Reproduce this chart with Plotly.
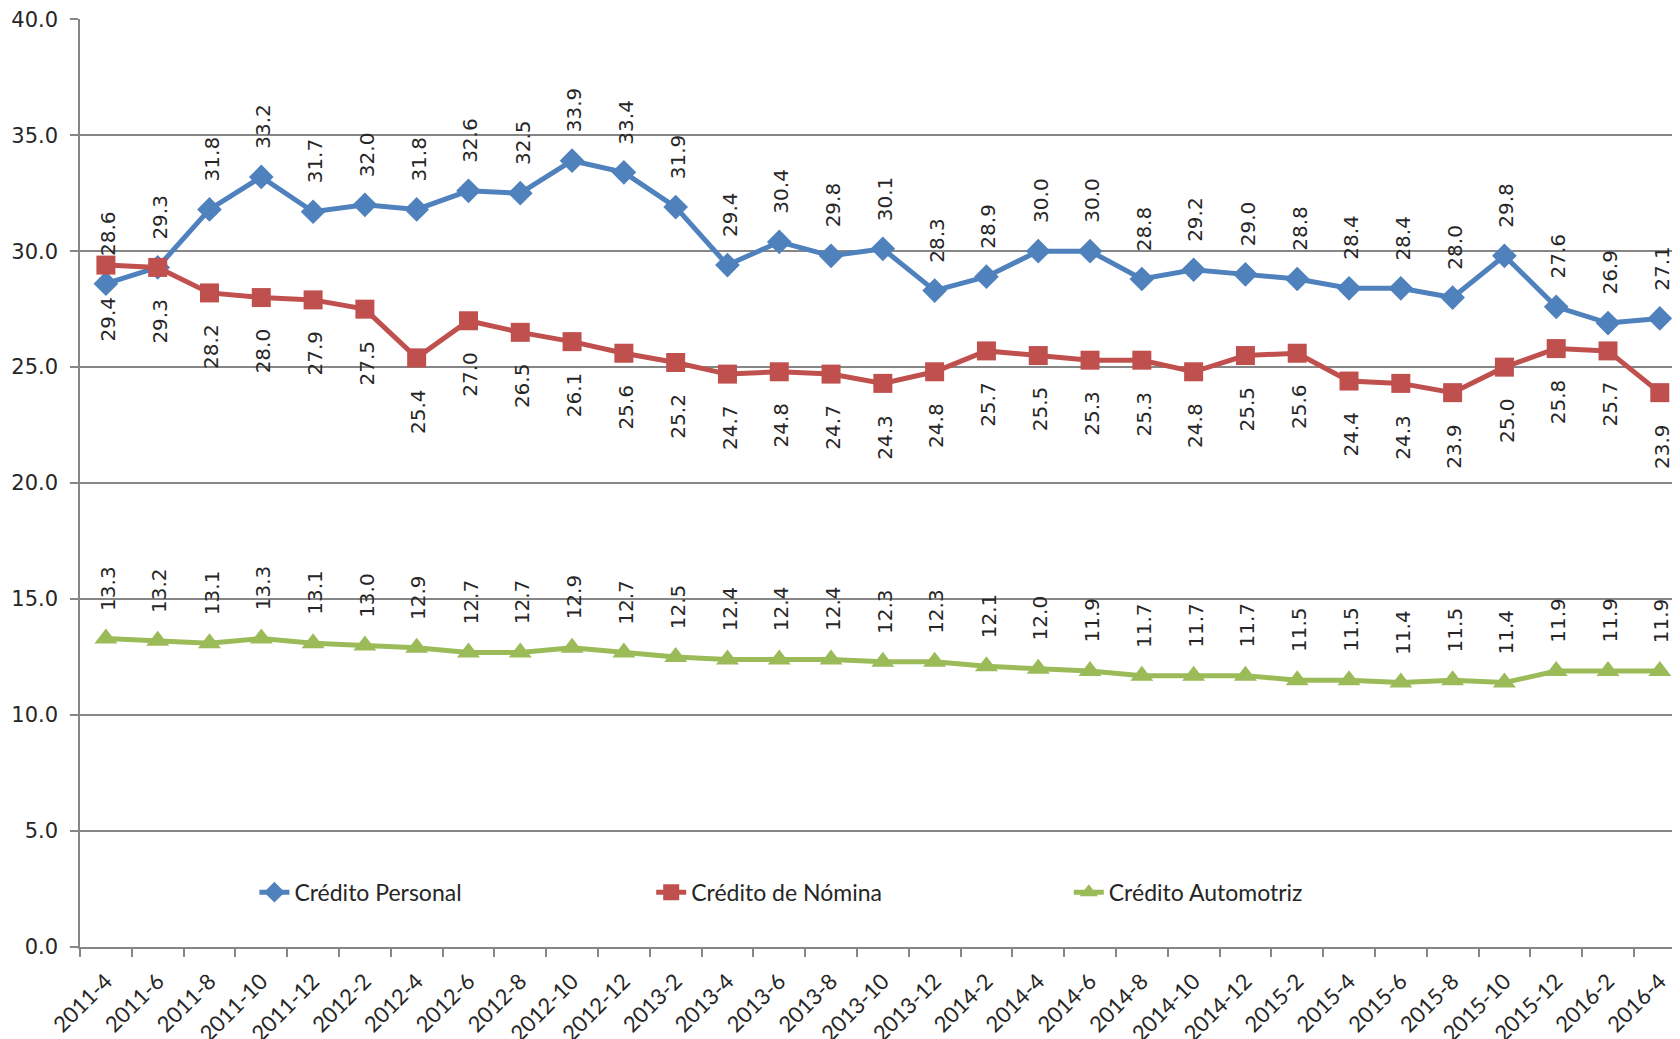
import plotly.graph_objects as go

periods = ["2011-4", "2011-6", "2011-8", "2011-10", "2011-12",
           "2012-2", "2012-4", "2012-6", "2012-8", "2012-10", "2012-12",
           "2013-2", "2013-4", "2013-6", "2013-8", "2013-10", "2013-12",
           "2014-2", "2014-4", "2014-6", "2014-8", "2014-10", "2014-12",
           "2015-2", "2015-4", "2015-6", "2015-8", "2015-10", "2015-12",
           "2016-2", "2016-4"]

personal = [28.6, 29.3, 31.8, 33.2, 31.7, 32.0, 31.8, 32.6, 32.5, 33.9, 33.4,
            31.9, 29.4, 30.4, 29.8, 30.1, 28.3, 28.9, 30.0, 30.0, 28.8, 29.2,
            29.0, 28.8, 28.4, 28.4, 28.0, 29.8, 27.6, 26.9, 27.1]

nomina = [29.4, 29.3, 28.2, 28.0, 27.9, 27.5, 25.4, 27.0, 26.5, 26.1, 25.6,
          25.2, 24.7, 24.8, 24.7, 24.3, 24.8, 25.7, 25.5, 25.3, 25.3, 24.8,
          25.5, 25.6, 24.4, 24.3, 23.9, 25.0, 25.8, 25.7, 23.9]

automotriz = [13.3, 13.2, 13.1, 13.3, 13.1, 13.0, 12.9, 12.7, 12.7, 12.9, 12.7,
              12.5, 12.4, 12.4, 12.4, 12.3, 12.3, 12.1, 12.0, 11.9, 11.7, 11.7,
              11.7, 11.5, 11.5, 11.4, 11.5, 11.4, 11.9, 11.9, 11.9]

y_ticks = [0, 5, 10, 15, 20, 25, 30, 35, 40]

series = [
    ("Crédito Personal", personal, "#4F81BD", "diamond", 19, "above", "legend"),
    ("Crédito de Nómina", nomina, "#C0504D", "square", 19, "below", "legend2"),
    ("Crédito Automotriz", automotriz, "#9BBB59", "triangle-up", 20, "above", "legend3"),
]

fig = go.Figure()
annotations = []
label_font = dict(family="DejaVu Sans", size=20, color="#262626")

for name, vals, color, sym, msize, pos, leg in series:
    fig.add_trace(go.Scatter(
        x=periods, y=vals, name=name, mode="lines+markers",
        line=dict(color=color, width=5),
        marker=dict(symbol=sym, size=msize, color=color),
        legend=leg, cliponaxis=False, showlegend=True,
    ))
    for xv, yv in zip(periods, vals):
        annotations.append(dict(
            x=xv, y=yv, xref="x", yref="y", text=f"{yv:.1f}",
            showarrow=False, textangle=-90, font=label_font,
            xanchor="center",
            yanchor="bottom" if pos == "above" else "top",
            yshift=26 if pos == "above" else -29,
            xshift=2,
        ))

leg_common = dict(orientation="h", yanchor="middle", xanchor="left",
                  bgcolor="rgba(0,0,0,0)", visible=True,
                  font=dict(family="Lato", size=23, color="#262626"))

fig.update_layout(
    width=1672, height=1031,
    margin=dict(l=72, r=0, t=11, b=92),
    paper_bgcolor="white", plot_bgcolor="white",
    showlegend=True,
    annotations=annotations,
    legend=dict(x=0.109, y=0.059, **leg_common),
    legend2=dict(x=0.357, y=0.059, **leg_common),
    legend3=dict(x=0.618, y=0.059, **leg_common),
    xaxis=dict(
        type="category", range=[-0.5, 30.39],
        tickangle=-45, ticks="outside", tickson="boundaries",
        ticklen=8, tickcolor="#868686", tickwidth=1.5,
        ticklabelstandoff=11, ticklabeloverflow="allow",
        showline=True, linecolor="#868686", linewidth=1.5,
        showgrid=False, automargin=False,
        tickfont=dict(family="Lato", size=22, color="#262626"),
    ),
    yaxis=dict(
        range=[0, 40.01], tickvals=y_ticks, tickformat=".1f",
        ticks="outside", ticklen=8, tickcolor="#868686", tickwidth=1.5,
        ticklabelstandoff=8, ticklabeloverflow="allow",
        showline=True, linecolor="#868686", linewidth=1.5,
        showgrid=True, gridcolor="#868686", gridwidth=1.5,
        zeroline=False, automargin=False,
        tickfont=dict(family="DejaVu Sans", size=21, color="#262626"),
    ),
)

fig.write_html("out.html")
